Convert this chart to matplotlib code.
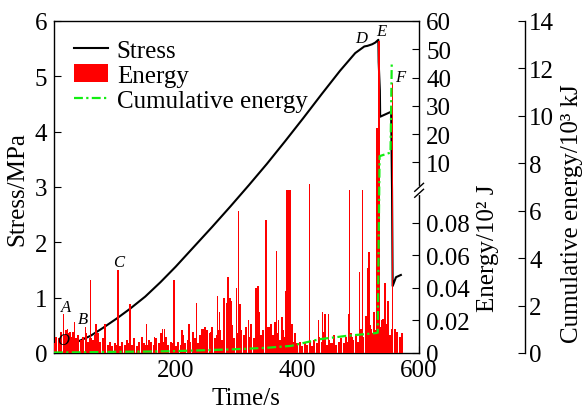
import numpy as np
import matplotlib
matplotlib.use('Agg')
import matplotlib.pyplot as plt
from matplotlib.lines import Line2D
from matplotlib.patches import Patch

plt.rcParams['font.family'] = ['Liberation Serif', 'DejaVu Serif']

# ---------------- data ----------------
stress_time = [38, 60, 80, 104, 125, 150, 175, 200, 230, 260, 290, 320, 350, 380,
               410, 440, 470, 495, 510, 515, 523, 528, 533, 533.5, 535.5, 536,
               546, 554, 555.5, 556.5, 562, 570]
stress_value = [0.20, 0.31, 0.45, 0.63, 0.80, 1.02, 1.28, 1.56, 1.92, 2.28, 2.65,
                3.03, 3.42, 3.83, 4.25, 4.68, 5.10, 5.42, 5.54, 5.55, 5.58, 5.61,
                5.66, 5.26, 4.74, 4.27, 4.32, 4.36, 2.95, 1.21, 1.37, 1.41]

bg_time = np.arange(0, 576, 4)
bg_energy = [0.006, 0.010, 0.009, 0.013, 0.011, 0.014, 0.012, 0.010, 0.013, 0.009,
             0.011, 0.008, 0.010, 0.012, 0.007, 0.009,
             0.008, 0.011, 0.012, 0.007, 0.009, 0.006, 0.005, 0.007, 0.004, 0.006,
             0.005, 0.004, 0.007, 0.005,
             0.008, 0.006, 0.005, 0.009, 0.004, 0.007, 0.010, 0.006, 0.005, 0.008,
             0.007, 0.005, 0.009, 0.006, 0.012,
             0.007, 0.010, 0.005, 0.007, 0.006, 0.004, 0.007, 0.005, 0.011, 0.006,
             0.008, 0.007, 0.013, 0.009, 0.006,
             0.011, 0.015, 0.016, 0.014, 0.012, 0.016, 0.009, 0.011, 0.014, 0.008,
             0.012, 0.010, 0.013, 0.017, 0.009, 0.012, 0.008, 0.014, 0.011, 0.016,
             0.010, 0.013, 0.009, 0.012, 0.015, 0.011, 0.014, 0.008, 0.013, 0.018,
             0.011, 0.009, 0.012, 0.008, 0.014, 0.010, 0.012, 0.009, 0.007, 0.010,
             0.006,
             0.007, 0.004, 0.006, 0.005, 0.007, 0.004, 0.008, 0.006, 0.010, 0.007,
             0.013, 0.005, 0.008, 0.006, 0.011, 0.005, 0.007, 0.009, 0.006, 0.010,
             0.007, 0.012, 0.008, 0.011, 0.007, 0.015, 0.010, 0.013, 0.009, 0.017,
             0.012,
             0.014, 0.019, 0.016, 0.021, 0.013, 0.018, 0.011, 0.015, 0.009, 0.013,
             0.010, 0.012]

spike_time = [8, 16, 22, 26, 30, 34, 52, 60, 69, 84, 105, 125, 152, 165, 178, 182,
              197, 210, 222, 234, 245, 249, 251, 258, 269, 272, 273, 279, 284, 286,
              289, 292, 300, 303, 306, 320, 324, 332, 335, 338, 348, 352, 353, 357,
              363, 366, 369, 375, 380, 383, 384.5, 386, 387.5, 389, 391, 396, 420,
              435, 441, 445, 451, 484, 486, 490, 502, 507, 513, 515, 518, 522, 526,
              530, 532, 534, 538, 544, 549, 556, 560]
spike_energy = [0.009, 0.024, 0.015, 0.013, 0.012, 0.019, 0.016, 0.045, 0.018, 0.018,
                0.051, 0.030, 0.018, 0.010, 0.015, 0.015, 0.045, 0.014, 0.018, 0.031,
                0.015, 0.016, 0.014, 0.013, 0.035, 0.025, 0.012, 0.034, 0.031, 0.047,
                0.034, 0.032, 0.040, 0.087, 0.030, 0.020, 0.018, 0.040, 0.041, 0.025,
                0.082, 0.016, 0.016, 0.015, 0.019, 0.063, 0.020, 0.022, 0.038, 0.3,
                0.3, 0.3, 0.3, 0.3, 0.018, 0.012, 2.5, 0.020, 0.025, 0.024, 0.024,
                0.024, 0.3, 0.010, 0.050, 0.3, 0.023, 0.052, 0.062, 0.015, 0.025, 22,
                22, 53, 0.020, 0.043, 0.032, 38, 0.015]

cum_time = [0, 50, 100, 150, 200, 250, 300, 350, 390, 403, 436, 480, 529, 532,
            535, 553, 555]
cum_value = [0.02, 0.03, 0.05, 0.06, 0.08, 0.12, 0.16, 0.22, 0.30, 0.38, 0.58,
             0.72, 0.84, 0.86, 8.30, 8.45, 12.2]

point_labels = ['O', 'A', 'B', 'C', 'D', 'E', 'F']
point_t = [15, 20, 48, 106, 505, 538, 569]
point_s = [0.23, 0.83, 0.61, 1.65, 5.70, 5.82, 4.99]

stress_ticks = [0, 1, 2, 3, 4, 5, 6]
time_ticks = [200, 400, 600]
energy_ticks = [0, 0.02, 0.04, 0.06, 0.08, 10, 20, 30, 40, 50, 60]
energy_ticklabels = ['0', '0.02', '0.04', '0.06', '0.08', '10', '20', '30', '40', '50', '60']
cum_ticks = [0, 2, 4, 6, 8, 10, 12, 14]

# ---------------- figure ----------------
FS = 18
GREEN = '#11ee11'
DASH = (0, (4, 1.5, 1, 1.5))
fig = plt.figure(figsize=(5.87, 4.10), dpi=100)
ax = fig.add_axes([0.092, 0.1366, 0.622, 0.8098])
ax_e = ax.twinx()
ax_c = ax.twinx()

# stress
ax.plot(stress_time, stress_value, color='black', lw=1.5, zorder=2)
ax.set_xlim(0, 600)
ax.set_ylim(0, 6)
ax.set_xticks(time_ticks)
ax.set_yticks(stress_ticks)
ax.tick_params(axis='both', direction='in', length=5, labelsize=FS, pad=5)
ax.tick_params(axis='x', pad=4)
ax.spines['right'].set_visible(False)
for sp in ax.spines.values():
    sp.set_linewidth(1.0)

# energy (broken axis via piecewise scale)
F = 0.49


def fwd(v):
    v = np.asarray(v, dtype=float)
    return np.where(v <= 0.1, v / 0.1 * F, F + (v - 0.1) / 59.9 * (1 - F))


def inv(y):
    y = np.asarray(y, dtype=float)
    return np.where(y <= F, y / F * 0.1, 0.1 + (y - F) / (1 - F) * 59.9)


ax_e.set_yscale('function', functions=(fwd, inv))
ax_e.set_ylim(0, 60)
ax_e.bar(bg_time, bg_energy, width=3.4, color='red', linewidth=0, align='center')
ax_e.bar(spike_time, spike_energy, width=2.4, color='red', linewidth=0, align='center')
ax_e.set_yticks(energy_ticks)
ax_e.set_yticklabels(energy_ticklabels)
ax_e.yaxis.set_minor_locator(matplotlib.ticker.NullLocator())
ax_e.tick_params(axis='y', direction='in', length=5, labelsize=FS, pad=5)
for side in ['left', 'top', 'bottom']:
    ax_e.spines[side].set_visible(False)
ax_e.spines['right'].set_linewidth(1.0)

# break marks on the energy axis
bx, by = 1.0, F
ax_e.plot([bx, bx], [by - 0.008, by + 0.008], transform=ax_e.transAxes,
          color='white', lw=3, clip_on=False, zorder=5)
for dy in (-0.009, 0.009):
    ax_e.plot([bx - 0.012, bx + 0.012], [by + dy - 0.012, by + dy + 0.012],
              transform=ax_e.transAxes, color='black', lw=1.0, clip_on=False, zorder=6)

# cumulative energy
ax_c.plot(cum_time, cum_value, color=GREEN, lw=1.6, linestyle=DASH, zorder=3)
ax_c.set_ylim(0, 14)
ax_c.set_yticks(cum_ticks)
ax_c.spines['right'].set_position(('axes', 1.29))
for side in ['left', 'top', 'bottom']:
    ax_c.spines[side].set_visible(False)
ax_c.spines['right'].set_linewidth(1.0)
ax_c.tick_params(axis='y', direction='in', length=5, labelsize=FS, pad=3)

# point labels (drawn on top axes, stress coordinates)
for lab, t, s in zip(point_labels, point_t, point_s):
    ax_c.text(t, s, lab, transform=ax.transData, fontsize=12, fontstyle='italic',
              ha='center', va='center', zorder=10)

# legend
handles = [Line2D([0], [0], color='black', lw=1.5),
           Patch(facecolor='red', edgecolor='none'),
           Line2D([0], [0], color=GREEN, lw=1.6, linestyle=DASH)]
ax_c.legend(handles, ['Stress', 'Energy', 'Cumulative energy'], loc='upper left',
            bbox_to_anchor=(0.055, 0.945), frameon=False, fontsize=FS,
            handlelength=1.35, handletextpad=0.36, labelspacing=0.1,
            borderpad=0, borderaxespad=0)

# axis titles
fig.text(17 / 587, 1 - 189 / 410, 'Stress/MPa', rotation=90, ha='center', va='center', fontsize=FS)
fig.text(246 / 587, 1 - 399 / 410, 'Time/s', ha='center', va='center', fontsize=FS)
fig.text(488 / 587, 1 - 248 / 410, 'Energy/10² J', rotation=90, ha='center', va='center', fontsize=FS)
fig.text(572 / 587, 1 - 214 / 410, 'Cumulative energy/10³ kJ', rotation=90, ha='center',
         va='center', fontsize=FS)

fig.savefig('out.png', dpi=100)
